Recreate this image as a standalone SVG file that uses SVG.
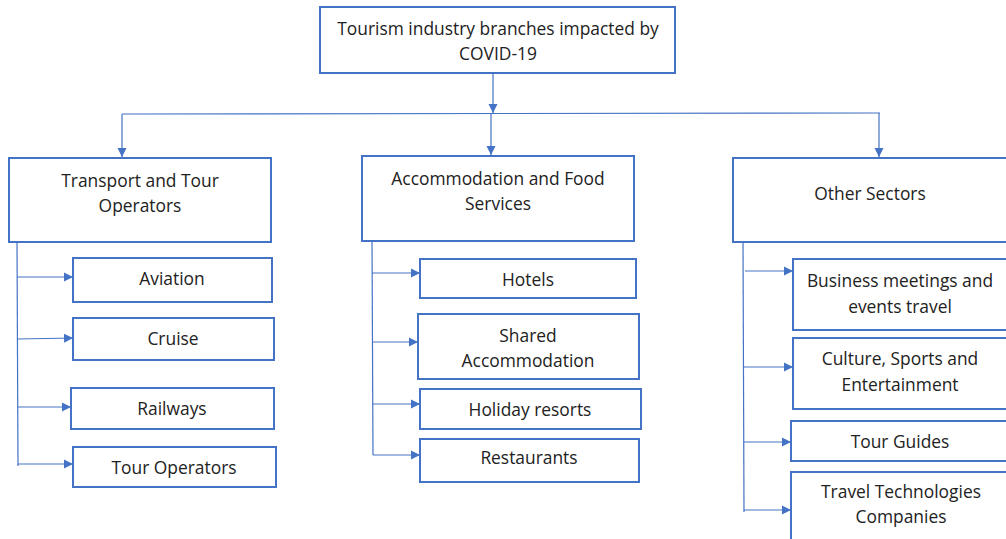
<svg xmlns="http://www.w3.org/2000/svg" width="1006" height="539" viewBox="0 0 1006 539">
<defs>
<marker id="ah" markerUnits="userSpaceOnUse" markerWidth="10" markerHeight="10" refX="9" refY="5" orient="auto">
<path d="M0,0.5 L9,5 L0,9.5 Z" fill="#4472C4"/>
</marker>
<style>
.box{fill:#fff;stroke:#4472C4;stroke-width:2}
.t{font-family:"Open Sans","Liberation Sans",Arial,sans-serif;font-size:17.4px;fill:#222;text-anchor:middle}
.c{fill:none;stroke:#4472C4;stroke-width:1.2}
.a{marker-end:url(#ah)}
</style>
</defs>
<rect width="1006" height="539" fill="#fff"/>
<g id="connectors">
<line class="c a" x1="493" y1="73" x2="493" y2="113"/>
<line class="c" x1="122" y1="114" x2="880" y2="113"/>
<line class="c a" x1="122" y1="114" x2="122" y2="157"/>
<line class="c a" x1="491" y1="114" x2="491" y2="155"/>
<line class="c a" x1="879" y1="113" x2="879" y2="157"/>
<line class="c" x1="17" y1="242" x2="18" y2="466"/>
<line class="c a" x1="17" y1="277" x2="73" y2="277"/>
<line class="c a" x1="17" y1="339" x2="73" y2="338"/>
<line class="c a" x1="18" y1="407" x2="71" y2="407"/>
<line class="c a" x1="18" y1="464" x2="73" y2="464"/>
<line class="c" x1="372" y1="240" x2="373" y2="455"/>
<line class="c a" x1="372" y1="273" x2="420" y2="273"/>
<line class="c a" x1="372" y1="342" x2="418" y2="342"/>
<line class="c a" x1="373" y1="404" x2="420" y2="404"/>
<line class="c a" x1="373" y1="455" x2="420" y2="455"/>
<line class="c" x1="743" y1="240" x2="744" y2="512"/>
<line class="c a" x1="745" y1="271" x2="793" y2="271"/>
<line class="c a" x1="744" y1="367" x2="793" y2="367"/>
<line class="c a" x1="744" y1="442" x2="791" y2="442"/>
<line class="c a" x1="744" y1="510" x2="791" y2="510"/>
</g>
<g id="root"><rect class="box" x="320" y="7" width="355" height="66"/><text class="t" x="498" y="35">Tourism industry branches impacted by</text><text class="t" x="498" y="60">COVID-19</text></g>
<g id="transport"><rect class="box" x="9" y="158" width="262" height="84"/><text class="t" x="140" y="187">Transport and Tour</text><text class="t" x="140" y="212">Operators</text></g>
<g id="aviation"><rect class="box" x="73" y="258" width="199" height="44"/><text class="t" x="172" y="285">Aviation</text></g>
<g id="cruise"><rect class="box" x="73" y="318" width="201" height="42"/><text class="t" x="173" y="345">Cruise</text></g>
<g id="railways"><rect class="box" x="71" y="388" width="203" height="41"/><text class="t" x="172" y="415">Railways</text></g>
<g id="tour-operators"><rect class="box" x="73" y="447" width="203" height="40"/><text class="t" x="174" y="474">Tour Operators</text></g>
<g id="accommodation"><rect class="box" x="362" y="156" width="272" height="85"/><text class="t" x="498" y="185">Accommodation and Food</text><text class="t" x="498" y="210">Services</text></g>
<g id="hotels"><rect class="box" x="420" y="259" width="216" height="39"/><text class="t" x="528" y="286">Hotels</text></g>
<g id="shared"><rect class="box" x="418" y="314" width="221" height="65"/><text class="t" x="528" y="342">Shared</text><text class="t" x="528" y="367">Accommodation</text></g>
<g id="holiday"><rect class="box" x="420" y="389" width="221" height="40"/><text class="t" x="530" y="416">Holiday resorts</text></g>
<g id="restaurants"><rect class="box" x="420" y="439" width="219" height="43"/><text class="t" x="529" y="464">Restaurants</text></g>
<g id="other"><rect class="box" x="733" y="158" width="290" height="84"/><text class="t" x="870" y="200">Other Sectors</text></g>
<g id="business"><rect class="box" x="793" y="259" width="230" height="71"/><text class="t" x="900" y="287">Business meetings and</text><text class="t" x="900" y="313">events travel</text></g>
<g id="culture"><rect class="box" x="793" y="338" width="230" height="71"/><text class="t" x="900" y="365">Culture, Sports and</text><text class="t" x="900" y="391">Entertainment</text></g>
<g id="guides"><rect class="box" x="791" y="421" width="232" height="40"/><text class="t" x="900" y="448">Tour Guides</text></g>
<g id="tech"><rect class="box" x="791" y="472" width="232" height="80"/><text class="t" x="901" y="498">Travel Technologies</text><text class="t" x="901" y="523">Companies</text></g>
</svg>
